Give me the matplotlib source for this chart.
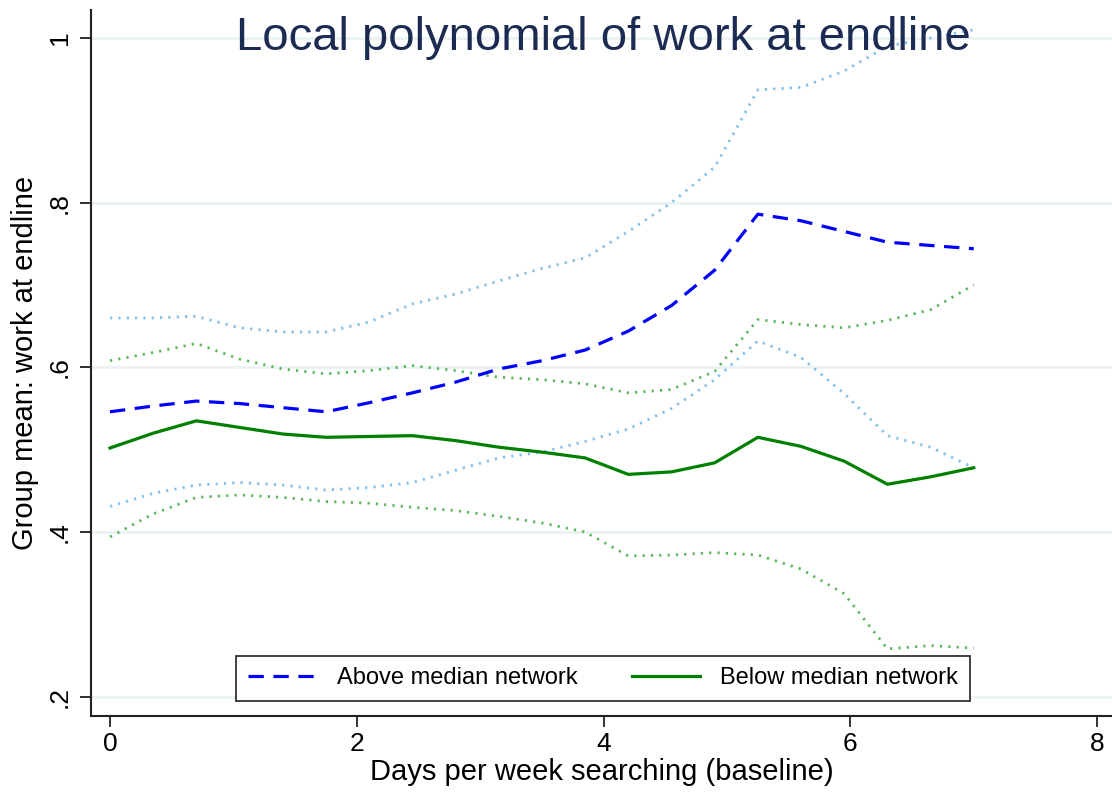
import matplotlib.pyplot as plt

plt.rcParams['font.family'] = ['Liberation Sans', 'DejaVu Sans']

# lpoly grid (days per week searching at baseline)
days = [0, 0.35, 0.7, 1.05, 1.4, 1.75, 2.1, 2.45, 2.8, 3.15, 3.5,
        3.85, 4.2, 4.55, 4.9, 5.25, 5.6, 5.95, 6.3, 6.65, 7.0]

# above median network
above = [0.546, 0.553, 0.559, 0.556, 0.551, 0.546, 0.557, 0.569, 0.582, 0.598, 0.608,
         0.621, 0.644, 0.675, 0.718, 0.786, 0.778, 0.765, 0.752, 0.748, 0.744]
above_hi = [0.660, 0.660, 0.662, 0.648, 0.643, 0.643, 0.655, 0.677, 0.689, 0.705, 0.720,
            0.733, 0.765, 0.800, 0.843, 0.937, 0.940, 0.960, 0.990, 1.000, 1.010]
above_lo = [0.431, 0.447, 0.457, 0.460, 0.457, 0.451, 0.454, 0.460, 0.475, 0.490, 0.497,
            0.510, 0.525, 0.550, 0.585, 0.632, 0.612, 0.568, 0.517, 0.503, 0.478]

# below median network
below = [0.502, 0.520, 0.535, 0.527, 0.519, 0.515, 0.516, 0.517, 0.511, 0.503, 0.497,
         0.490, 0.470, 0.473, 0.484, 0.515, 0.504, 0.486, 0.458, 0.467, 0.478]
below_hi = [0.608, 0.618, 0.629, 0.610, 0.598, 0.592, 0.596, 0.602, 0.596, 0.588, 0.585,
            0.580, 0.569, 0.573, 0.595, 0.658, 0.652, 0.648, 0.657, 0.670, 0.700]
below_lo = [0.394, 0.422, 0.442, 0.445, 0.442, 0.437, 0.435, 0.430, 0.426, 0.419, 0.411,
            0.400, 0.371, 0.372, 0.375, 0.372, 0.355, 0.325, 0.258, 0.262, 0.259]

yticks = [0.2, 0.4, 0.6, 0.8, 1.0]
ytick_labels = ['.2', '.4', '.6', '.8', '1']
xticks = [0, 2, 4, 6, 8]

fig = plt.figure(figsize=(11.12, 8), dpi=100)
ax = fig.add_axes([91 / 1112, 1 - 715.6 / 800, 1 - 91 / 1112, (715.6 - 10) / 800])

ax.set_xlim(-0.154, 8.12)
ax.set_ylim(0.177, 1.034)

for yv in yticks:
    ax.axhline(yv, color='#eaf2f3', lw=2, zorder=0)

# confidence bands, dotted
dot = (0, (0.8, 2.2))
ax.plot(days, above_hi, color='#7fc0ee', lw=2, linestyle=dot)
ax.plot(days, above_lo, color='#7fc0ee', lw=2, linestyle=dot)
ax.plot(days, below_hi, color='#5cb85c', lw=2, linestyle=dot)
ax.plot(days, below_lo, color='#5cb85c', lw=2, linestyle=dot)
ax.plot(days, above, color='#0000ff', lw=2.3, dashes=(4.8, 3.0),
        label='Above median network')
ax.plot(days, below, color='#008000', lw=2.3, label='Below median network')

ax.set_xticks(xticks)
ax.set_xticklabels([str(v) for v in xticks], fontsize=19)
ax.set_yticks(yticks)
ax.set_yticklabels(ytick_labels, fontsize=19, rotation=90, va='center')
ax.tick_params(axis='both', length=8, width=1.3, color='#222222')
ax.tick_params(axis='x', pad=4)
ax.tick_params(axis='y', pad=6)

for side in ['top', 'right']:
    ax.spines[side].set_visible(False)
for side in ['left', 'bottom']:
    ax.spines[side].set_linewidth(1.5)
    ax.spines[side].set_color('#222222')

ax.set_xlabel('Days per week searching (baseline)', fontsize=21, labelpad=1)
ax.set_ylabel('Group mean: work at endline', fontsize=21, labelpad=6)

fig.text(603 / 1112, 1 - 38 / 800, 'Local polynomial of work at endline',
         fontsize=34, color='#1c2b52', ha='center', va='center')

leg = ax.legend(loc='center', bbox_to_anchor=(603 / 1112, 1 - 678.5 / 800),
                bbox_transform=fig.transFigure, ncol=2, fontsize=17,
                frameon=True, fancybox=False, handlelength=2.9,
                handletextpad=0.85, columnspacing=2.3, borderpad=0.5)
leg.get_frame().set_edgecolor('black')
leg.get_frame().set_linewidth(1.3)

fig.savefig('out.png', dpi=100)
